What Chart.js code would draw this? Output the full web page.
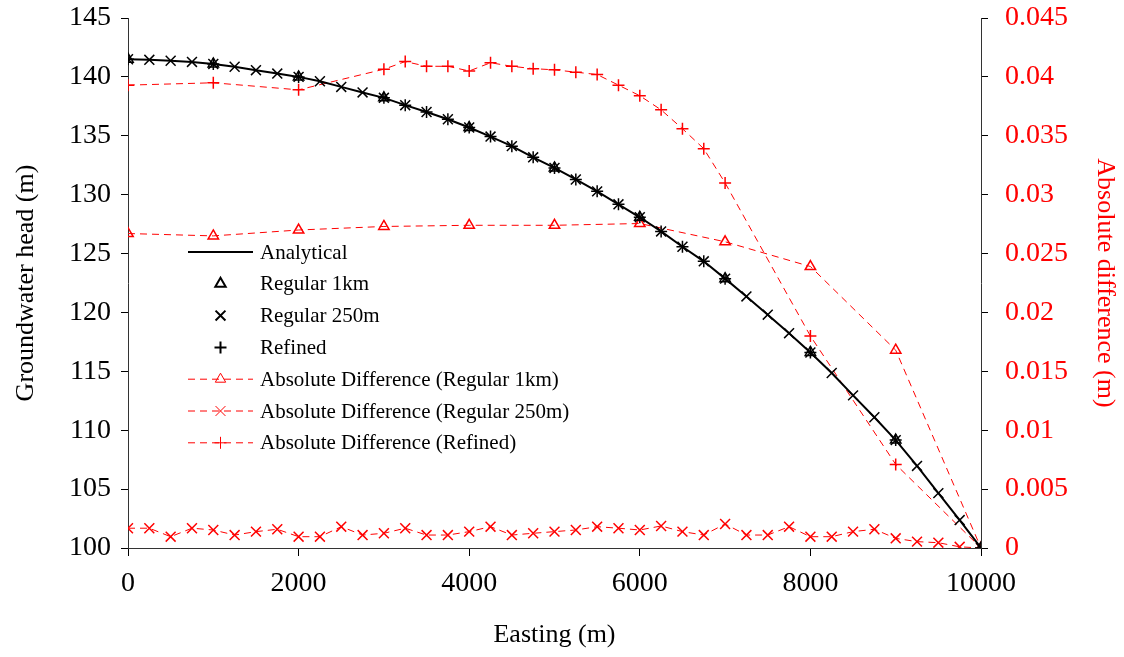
<!DOCTYPE html>
<html>
<head>
<meta charset="utf-8">
<script src="https://cdn.jsdelivr.net/npm/chart.js@4.4.0/dist/chart.umd.min.js"></script>
<style>
  body { margin: 0; background: #fff; }
  #wrap { width: 1124px; height: 657px; }
</style>
</head>
<body>
<div id="wrap"><canvas id="headChart"></canvas></div>
<script>
// easting grids (m)
const eastingAnalytical = [0, 250, 500, 750, 1000, 1250, 1500, 1750, 2000, 2250, 2500, 2750, 3000, 3250, 3500, 3750, 4000, 4250, 4500, 4750, 5000,
    5250, 5500, 5750, 6000, 6250, 6500, 6750, 7000, 7250, 7500, 7750, 8000, 8250, 8500, 8750, 9000, 9250, 9500, 9750, 10000];
const eastingRegular1km = [0, 1000, 2000, 3000, 4000, 5000, 6000, 7000, 8000, 9000, 10000];
const eastingRegular250m = [0, 250, 500, 750, 1000, 1250, 1500, 1750, 2000, 2250, 2500, 2750, 3000, 3250, 3500, 3750, 4000, 4250, 4500, 4750, 5000,
    5250, 5500, 5750, 6000, 6250, 6500, 6750, 7000, 7250, 7500, 7750, 8000, 8250, 8500, 8750, 9000, 9250, 9500, 9750, 10000];
const eastingRefined = [0, 1000, 2000, 3000, 3250, 3500, 3750, 4000, 4250, 4500, 4750, 5000, 5250, 5500, 5750, 6000, 6250, 6500, 6750, 7000, 8000, 9000, 10000];

// groundwater head (m)
const headAnalytical = [141.5, 141.45, 141.37, 141.27, 141.1, 140.86, 140.57, 140.28, 140.0, 139.63, 139.15, 138.68, 138.22, 137.6, 137.02, 136.4, 135.7,
    134.93, 134.12, 133.17, 132.27, 131.29, 130.28, 129.18, 128.08, 126.88, 125.58, 124.34, 122.87, 121.36, 119.81, 118.24, 116.6,
    114.86, 112.96, 111.1, 109.16, 106.97, 104.66, 102.37, 100.0];
const headRegular1km = [141.5, 141.1, 140.0, 138.22, 135.7, 132.27, 128.08, 122.87, 116.6, 109.16, 100.0];
const headRegular250m = [141.5, 141.45, 141.37, 141.27, 141.1, 140.86, 140.57, 140.28, 140.0, 139.63, 139.15, 138.68, 138.22, 137.6, 137.02, 136.4, 135.7,
    134.93, 134.12, 133.17, 132.27, 131.29, 130.28, 129.18, 128.08, 126.88, 125.58, 124.34, 122.87, 121.36, 119.81, 118.24, 116.6,
    114.86, 112.96, 111.1, 109.16, 106.97, 104.66, 102.37, 100.0];
const headRefined = [141.5, 141.1, 140.0, 138.22, 137.6, 137.02, 136.4, 135.7, 134.93, 134.12, 133.17, 132.27, 131.29, 130.28, 129.18, 128.08,
    126.88, 125.58, 124.34, 122.87, 116.6, 109.16, 100.0];

// absolute difference (m)
const diffRegular1km = [0.0267, 0.0265, 0.0270, 0.0273, 0.0274, 0.0274, 0.02755, 0.0260, 0.0239, 0.0168, 0];
const diffRegular250m = [0.00168, 0.00168, 0.00096, 0.00168, 0.00153, 0.0011, 0.00139, 0.00159, 0.00096, 0.00096, 0.00181, 0.0011, 0.00125,
    0.00168, 0.0011, 0.0011, 0.00139, 0.00181, 0.0011, 0.00125, 0.00139, 0.00153, 0.00181, 0.00168, 0.00153, 0.00187, 0.00139, 0.0011,
    0.00204, 0.0011, 0.0011, 0.00181, 0.00096, 0.00096, 0.00139, 0.00159, 0.00082, 0.00054, 0.00045, 0.0001, 0];
const diffRefined = [0.0393, 0.0395, 0.0389, 0.04065, 0.0413, 0.0409, 0.0409, 0.0405, 0.0412, 0.0409, 0.0407, 0.0406, 0.0404, 0.0402, 0.0393,
    0.0384, 0.0372, 0.0356, 0.0339, 0.0310, 0.0180, 0.0071, 0];

const xTicks = [0, 2000, 4000, 6000, 8000, 10000];

function pts(xs, ys) {
    return xs.map((x, i) => ({ x: x, y: ys[i] }));
}

const serif = '"Liberation Serif", "Times New Roman", serif';
const red = '#ff0000';

// legend drawn inside the plot like the original
const insideLegend = {
    id: 'insideLegend',
    afterDatasetsDraw(chart) {
        const ctx = chart.ctx;
        const area = chart.chartArea;
        const x0 = area.left + 60;
        const x1 = area.left + 125;
        const xm = (x0 + x1) / 2;
        const tx = area.left + 132;
        ctx.save();
        ctx.font = '21px ' + serif;
        ctx.textBaseline = 'middle';
        ctx.textAlign = 'left';
        chart.data.datasets.forEach((ds, i) => {
            const y = area.top + 234 + i * 31.8;
            ctx.strokeStyle = ds.borderColor;
            ctx.fillStyle = 'rgba(0,0,0,0)';
            if (ds.showLine) {
                ctx.lineWidth = ds.borderWidth;
                ctx.setLineDash(ds.borderDash || []);
                ctx.beginPath();
                ctx.moveTo(x0, y);
                ctx.lineTo(x1, y);
                ctx.stroke();
                ctx.setLineDash([]);
            }
            if (ds.pointRadius > 0) {
                Chart.helpers.drawPoint(ctx, {
                    pointStyle: ds.pointStyle,
                    radius: ds.pointRadius,
                    rotation: 0,
                    borderWidth: ds.pointBorderWidth
                }, xm, y);
            }
            ctx.fillStyle = '#000';
            ctx.fillText(ds.label, tx, y + 1);
        });
        ctx.restore();
    }
};

// keep the plot box fixed, without extra room for end labels
function fitWidth(w) {
    return function(scale) {
        scale.width = w;
        scale.paddingTop = 0;
        scale.paddingBottom = 0;
    };
}

const ctx = document.getElementById('headChart').getContext('2d');

new Chart(ctx, {
    type: 'scatter',
    data: {
        datasets: [
            {
                label: 'Analytical',
                data: pts(eastingAnalytical, headAnalytical),
                yAxisID: 'y',
                showLine: true,
                borderColor: '#000',
                borderWidth: 2,
                pointRadius: 0,
                pointBorderWidth: 0
            },
            {
                label: 'Regular 1km',
                data: pts(eastingRegular1km, headRegular1km),
                yAxisID: 'y',
                showLine: false,
                borderColor: '#000',
                backgroundColor: 'rgba(0,0,0,0)',
                pointStyle: 'triangle',
                pointRadius: 6,
                pointBorderWidth: 1.5
            },
            {
                label: 'Regular 250m',
                data: pts(eastingRegular250m, headRegular250m),
                yAxisID: 'y',
                showLine: false,
                borderColor: '#000',
                pointStyle: 'crossRot',
                pointRadius: 7,
                pointBorderWidth: 1.5
            },
            {
                label: 'Refined',
                data: pts(eastingRefined, headRefined),
                yAxisID: 'y',
                showLine: false,
                borderColor: '#000',
                pointStyle: 'cross',
                pointRadius: 6,
                pointBorderWidth: 1.5
            },
            {
                label: 'Absolute Difference (Regular 1km)',
                data: pts(eastingRegular1km, diffRegular1km),
                yAxisID: 'y2',
                showLine: true,
                borderColor: red,
                backgroundColor: 'rgba(0,0,0,0)',
                borderWidth: 1,
                borderDash: [7, 5],
                pointStyle: 'triangle',
                pointRadius: 6,
                pointBorderWidth: 1.5
            },
            {
                label: 'Absolute Difference (Regular 250m)',
                data: pts(eastingRegular250m, diffRegular250m),
                yAxisID: 'y2',
                showLine: true,
                borderColor: red,
                borderWidth: 1,
                borderDash: [7, 5],
                pointStyle: 'crossRot',
                pointRadius: 7,
                pointBorderWidth: 1.5
            },
            {
                label: 'Absolute Difference (Refined)',
                data: pts(eastingRefined, diffRefined),
                yAxisID: 'y2',
                showLine: true,
                borderColor: red,
                borderWidth: 1,
                borderDash: [7, 5],
                pointStyle: 'cross',
                pointRadius: 6,
                pointBorderWidth: 1.5
            }
        ]
    },
    options: {
        responsive: true,
        maintainAspectRatio: false,
        animation: false,
        layout: { padding: { left: 7, right: 0, top: 18, bottom: 2 } },
        plugins: {
            legend: { display: false },
            tooltip: { enabled: false }
        },
        scales: {
            x: {
                type: 'linear',
                min: 0,
                max: 10000,
                afterFit(scale) { scale.height = 107; },
                afterBuildTicks(scale) { scale.ticks = xTicks.map(v => ({ value: v })); },
                ticks: { color: '#000', font: { family: serif, size: 28 }, padding: 11, maxRotation: 0, callback: v => String(v) },
                grid: { drawOnChartArea: false, drawTicks: true, tickLength: 8, color: '#000' },
                border: { display: true, color: '#333', width: 1 },
                title: { display: true, text: 'Easting (m)', color: '#000', font: { family: serif, size: 26 }, padding: { top: 4, bottom: 4 } }
            },
            y: {
                position: 'left',
                min: 100,
                max: 145,
                afterFit: fitWidth(121),
                ticks: { stepSize: 5, color: '#000', font: { family: serif, size: 28 }, padding: 10 },
                grid: { drawOnChartArea: false, drawTicks: true, tickLength: 7, color: '#000' },
                border: { display: true, color: '#333', width: 1 },
                title: { display: true, text: 'Groundwater head (m)', color: '#000', font: { family: serif, size: 26 }, padding: { top: 4, bottom: 4 } }
            },
            y2: {
                position: 'right',
                min: 0,
                max: 0.045,
                afterFit: fitWidth(143),
                ticks: {
                    stepSize: 0.005,
                    color: red,
                    font: { family: serif, size: 28 },
                    padding: 17,
                    callback: v => String(Number(v.toFixed(3)))
                },
                grid: { drawOnChartArea: false, drawTicks: true, tickLength: 7, color: '#000' },
                border: { display: true, color: '#333', width: 1 },
                title: { display: true, text: 'Absolute difference (m)', color: red, font: { family: serif, size: 26 }, padding: { top: 4, bottom: 4 } }
            }
        }
    },
    plugins: [insideLegend]
});
</script>
</body>
</html>
